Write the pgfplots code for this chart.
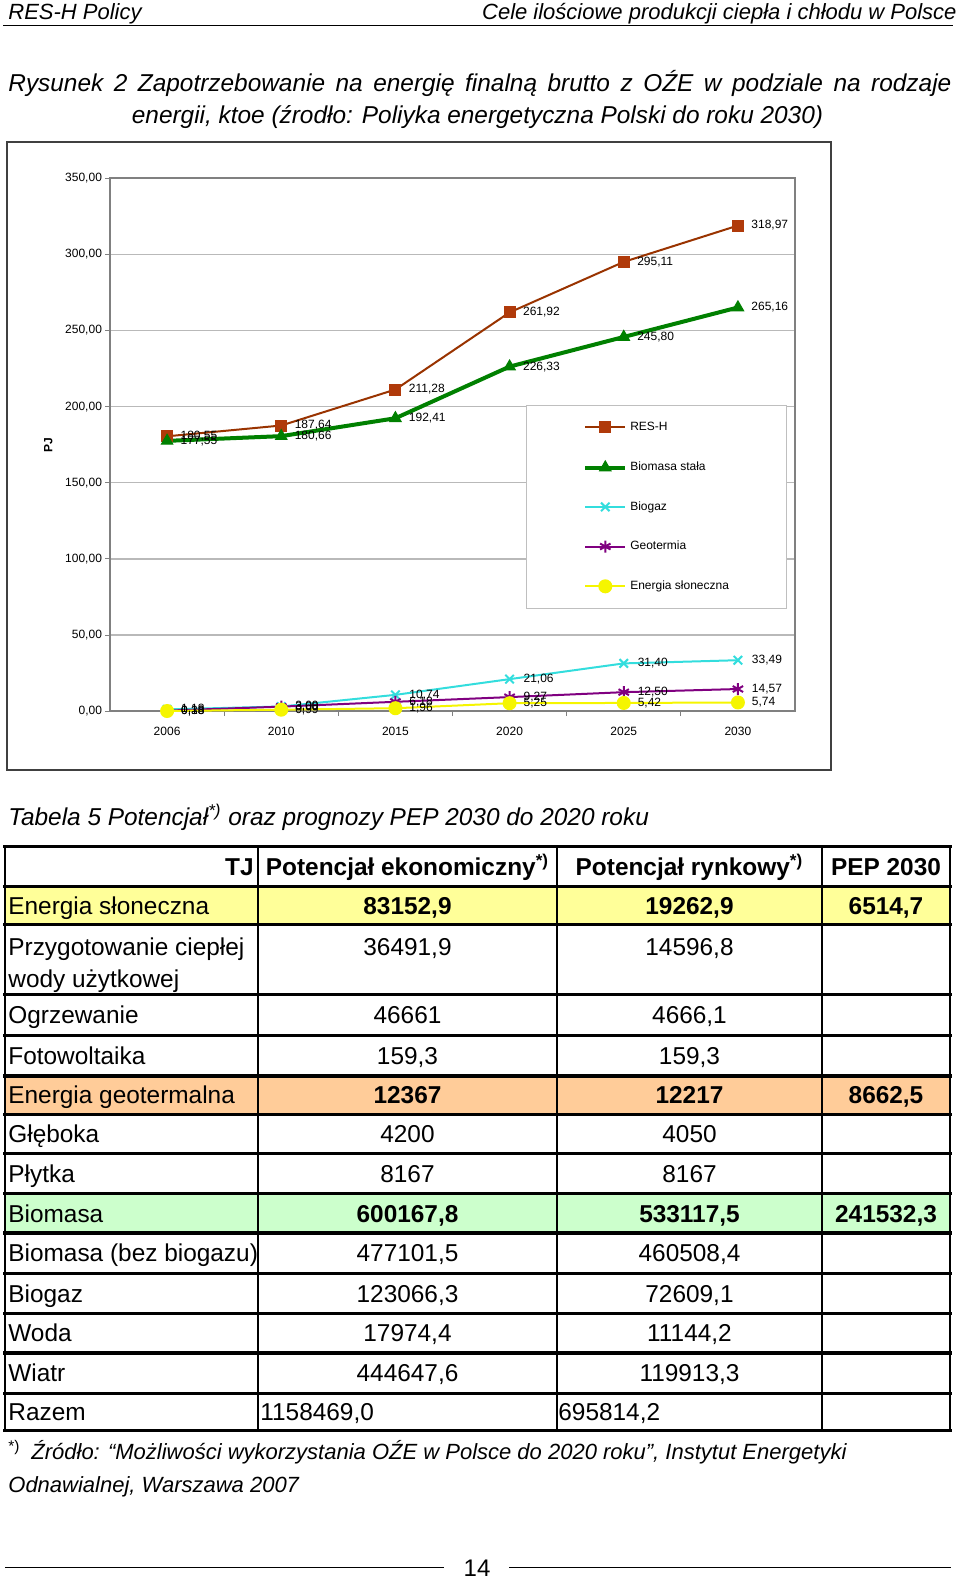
\documentclass[border=0pt]{standalone}
\usepackage{pgfplots}
\usepackage{pgfplotstable}
\pgfplotsset{compat=1.18}
\usepackage{fontspec}
\setmainfont{Liberation Sans}
\definecolor{cres}{HTML}{993300}
\definecolor{cresm}{HTML}{B03A0A}
\definecolor{cbio}{HTML}{008000}
\definecolor{cgaz}{HTML}{33DDDD}
\definecolor{cgeo}{HTML}{800080}
\definecolor{csol}{HTML}{F5F500}
\definecolor{fyel}{HTML}{FFFF99}
\definecolor{fora}{HTML}{FFCC99}
\definecolor{fgre}{HTML}{CCFFCC}
\newcommand{\hdr}{\fontsize{11pt}{13pt}\selectfont\itshape}
\newcommand{\ttl}{\fontsize{12.2pt}{14pt}\selectfont\itshape}
\newcommand{\tbl}{\fontsize{12.2pt}{14pt}\selectfont}
\newcommand{\ftn}{\fontsize{11pt}{13pt}\selectfont\itshape}
\newcommand{\chf}{\fontsize{6pt}{7pt}\selectfont}
\newcommand{\rowtxt}[5]{%
  \node[anchor=base west,inner sep=0] at (8,#1) {\tbl #2};
  \node[anchor=base,inner sep=0] at (407.5,#1) {\tbl #3};
  \node[anchor=base,inner sep=0] at (689.5,#1) {\tbl #4};
  \node[anchor=base,inner sep=0] at (886,#1) {\tbl #5};}

\pgfplotstableread{
x res bio gaz geo sol
0 180.55 177.55 1.18 0.38 0.13
1 187.64 180.66 3.09 3.00 0.99
2 211.28 192.41 10.74 6.18 1.96
3 261.92 226.33 21.06 9.27 5.25
4 295.11 245.80 31.40 12.50 5.42
5 318.97 265.16 33.49 14.57 5.74
}\datatab

\begin{document}
\begin{tikzpicture}
\useasboundingbox (0,0) rectangle (480pt,-789.5pt);
\begin{scope}[x=0.5pt,y=-0.5pt]
 \node[anchor=base west,inner sep=0] at (8,19.5) {\hdr RES-H Policy};
 \node[anchor=base east,inner sep=0] at (957,19.5) {\hdr Cele ilościowe produkcji ciepła i chłodu w Polsce};
 \draw[line width=0.75pt] (3,25.5) -- (953,25.5);
 \node[anchor=base west,inner sep=0] at (8,91) {\ttl\makebox[471.5pt][s]{Rysunek 2 Zapotrzebowanie na energię finalną brutto z OŹE w podziale na rodzaje}};
 \node[anchor=base,inner sep=0] at (477.5,123) {\ttl energii, ktoe (źrodło: Poliyka energetyczna Polski do roku 2030)};
 \draw[black!75,line width=0.7pt] (7,142) rectangle (831,770);
\end{scope}

\begin{axis}[
  at={(55pt,-355.6pt)}, anchor=south west,
  scale only axis, width=342.5pt, height=266.45pt,
  xmin=-0.5, xmax=5.5, ymin=0, ymax=350,
  xtick={0,...,5}, xticklabels={2006,2010,2015,2020,2025,2030},
  major x tick style={draw=none},
  minor xtick={0.5,1.5,2.5,3.5,4.5},
  ytick={0,50,...,350},
  tick pos=left,
  tick align=outside, major tick length=2.5pt, minor tick length=2.5pt,
  tick style={gray, line width=0.5pt},
  ymajorgrids, major grid style={gray!55, line width=0.6pt},
  axis line style={gray, line width=1pt},
  /pgf/number format/assume math mode=true,
  /pgf/number format/fixed, /pgf/number format/fixed zerofill,
  /pgf/number format/precision=2, /pgf/number format/use comma,
  tick label style={font=\chf},
  yticklabel style={xshift=2pt},
  xticklabel style={yshift=-2pt},
  ylabel={PJ},
  every axis y label/.style={at={(rel axis cs:0,0.5)}, xshift=-30.8pt, anchor=center, rotate=90, font=\chf\bfseries},
  nodes near coords={\pgfmathprintnumber[fixed,fixed zerofill,precision=2,use comma,assume math mode=true]{\pgfplotspointmeta}},
  nodes near coords align={west},
  every node near coord/.append style={font=\chf, inner sep=0pt, xshift=6.5pt, text=black},
  legend cell align=left,
  legend style={at={(axis cs:3.142,201.1)}, anchor=north west, draw=gray!50, line width=0.5pt, font=\chf, inner xsep=28.5pt, inner ysep=8pt, row sep=13.9pt, column sep=1.5pt, nodes={inner sep=0pt, text height=4.5pt, text depth=1.3pt}},
  legend image code/.code={\draw[mark repeat=2,mark phase=2,#1] plot coordinates {(0pt,0pt) (10pt,0pt) (20pt,0pt)};},
]
\addplot[cres, line width=1pt, mark=square*, mark size=2.75pt, mark options={fill=cresm, draw=cresm, solid, line width=0.5pt}] table[x=x,y=res]{\datatab};
\addlegendentry{RES-H}
\addplot[cbio, line width=2pt, mark=triangle*, mark size=3.3pt, mark options={fill=cbio, line width=0.5pt}] table[x=x,y=bio]{\datatab};
\addlegendentry{Biomasa stała}
\addplot[cgaz, line width=1pt, mark=x, mark size=3pt, mark options={line width=1pt}] table[x=x,y=gaz]{\datatab};
\addlegendentry{Biogaz}
\addplot[cgeo, line width=1pt, mark=asterisk, mark size=3pt, mark options={line width=1pt}] table[x=x,y=geo]{\datatab};
\addlegendentry{Geotermia}
\addplot[csol, line width=1pt, mark=*, mark size=3pt, mark options={fill=csol, draw=csol}] table[x=x,y=sol]{\datatab};
\addlegendentry{Energia słoneczna}
\end{axis}

\begin{scope}[x=0.5pt,y=-0.5pt]
 \node[anchor=base west,inner sep=0] at (8,825) {\ttl Tabela 5 Potencjał\textsuperscript{*)} oraz prognozy PEP 2030 do 2020 roku};
 \fill[fyel] (5,886.5) rectangle (950,924.7);
 \fill[fora] (5,1075.9) rectangle (950,1114.1);
 \fill[fgre] (5,1193.7) rectangle (950,1233.0);
 \foreach \yy in {846.2, 886.5, 924.7, 994.3, 1035.6, 1075.9, 1114.1, 1153.4, 1193.7, 1233.0, 1273.3, 1313.6, 1352.9, 1393.2, 1430.4}
   \draw[line width=1.6pt, line cap=rect] (5,\yy) -- (950,\yy);
 \foreach \xx in {5,258,557,822,950}
   \draw[line width=1.2pt] (\xx,846.2) -- (\xx,1430.4);
 \node[anchor=base east,inner sep=0] at (254,875) {\tbl\bfseries TJ};
 \node[anchor=base,inner sep=0] at (407.5,875) {\tbl\bfseries Potencjał ekonomiczny\textsuperscript{*)}};
 \node[anchor=base,inner sep=0] at (689.5,875) {\tbl\bfseries Potencjał rynkowy\textsuperscript{*)}};
 \node[anchor=base,inner sep=0] at (886,875) {\tbl\bfseries PEP 2030};
 \rowtxt{914}{Energia słoneczna}{\bfseries 83152,9}{\bfseries 19262,9}{\bfseries 6514,7}
 \rowtxt{955.5}{Przygotowanie ciepłej}{36491,9}{14596,8}{}
 \node[anchor=base west,inner sep=0] at (8,987.5) {\tbl wody użytkowej};
 \rowtxt{1023.5}{Ogrzewanie}{46661}{4666,1}{}
 \rowtxt{1064}{Fotowoltaika}{159,3}{159,3}{}
 \rowtxt{1103.5}{Energia geotermalna}{\bfseries 12367}{\bfseries 12217}{\bfseries 8662,5}
 \rowtxt{1142}{Głęboka}{4200}{4050}{}
 \rowtxt{1182}{Płytka}{8167}{8167}{}
 \rowtxt{1222}{Biomasa}{\bfseries 600167,8}{\bfseries 533117,5}{\bfseries 241532,3}
 \rowtxt{1261.5}{Biomasa (bez biogazu)}{477101,5}{460508,4}{}
 \rowtxt{1302}{Biogaz}{123066,3}{72609,1}{}
 \rowtxt{1341.5}{Woda}{17974,4}{11144,2}{}
 \rowtxt{1381.5}{Wiatr}{444647,6}{119913,3}{}
 \node[anchor=base west,inner sep=0] at (8,1420) {\tbl Razem};
 \node[anchor=base west,inner sep=0] at (260,1420) {\tbl 1158469,0};
 \node[anchor=base west,inner sep=0] at (558,1420) {\tbl 695814,2};
 \node[anchor=base west,inner sep=0] at (8,1459.5) {\ftn\textsuperscript{\upshape *)}};
 \node[anchor=base west,inner sep=0] at (31,1459.5) {\ftn Źródło: “Możliwości wykorzystania OŹE w Polsce do 2020 roku”, Instytut Energetyki};
 \node[anchor=base west,inner sep=0] at (8,1492) {\ftn Odnawialnej, Warszawa 2007};
 \draw[line width=0.6pt] (5,1567.5) -- (444,1567.5);
 \draw[line width=0.6pt] (509,1567.5) -- (951,1567.5);
 \node[anchor=base,inner sep=0] at (477,1576) {\fontsize{12pt}{14pt}\selectfont 14};
\end{scope}
\end{tikzpicture}
\end{document}
